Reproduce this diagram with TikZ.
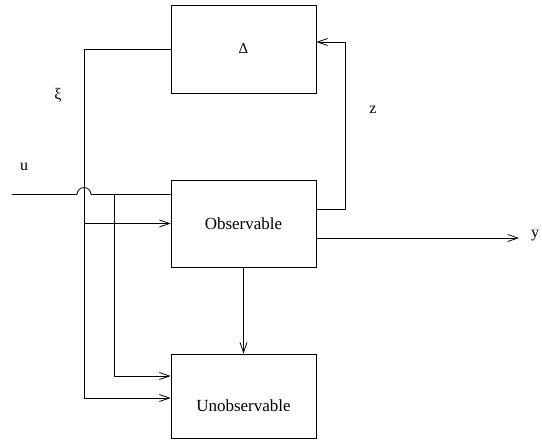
\documentclass[tikz,border=0pt]{standalone}
\usepackage{fontspec}
\setmainfont{Liberation Serif}
\usetikzlibrary{arrows.meta}
\begin{document}
\begin{tikzpicture}[x=1pt,y=-1pt, line width=0.8pt,
 box/.style={draw, minimum width=145pt, inner sep=0pt, font=\fontsize{17}{20}\selectfont},
 lbl/.style={font=\fontsize{16}{18}\selectfont, inner sep=0pt},
 arr/.style={-{Straight Barb[length=10pt,width=7pt]}}]
\useasboundingbox (0,0) rectangle (542,442);
\node[box, minimum height=88pt, font=\fontsize{15}{17}\selectfont] (delta) at (243.5,49) {Δ};
\node[box, minimum height=87pt] (obs) at (243.5,223.5) {Observable};
\node[box, minimum height=84pt] (unobs) at (243.5,396) {};
\node[font=\fontsize{17}{20}\selectfont, inner sep=0pt] (unobsT) at (243.5,406) {Unobservable};
% xi path
\coordinate (xiC) at (84,49);
\coordinate (xiO) at (84,223.5);
\coordinate (xiB) at (84,398);
\draw (delta.west) -- (xiC) -- (xiB);
\draw[arr] (xiO) -- (obs.west);
\draw[arr] (xiB) -- (unobs.west |- xiB);
% u path
\coordinate (uS) at (12,194.5);
\coordinate (uJ) at (114,194.5);
\coordinate (uB) at (114,376);
\draw (uS) -- (77,194.5) arc[start angle=180, end angle=360, radius=7] -- (obs.west |- uS);
\draw (uJ) -- (uB);
\draw[arr] (uB) -- (unobs.west |- uB);
% feedback z
\coordinate (zA) at (345,209);
\coordinate (zB) at (345,42);
\draw[arr] (obs.east |- zA) -- (zA) -- (zB) -- (delta.east |- zB);
% output y
\coordinate (yE) at (519,238);
\draw[arr] (obs.east |- yE) -- (yE);
% down
\draw[arr] (obs.south) -- (unobs.north);
% labels
\node[lbl] (xi) at (58,95) {ξ};
\node[lbl] (zl) at (373,110) {z};
\node[lbl] (ul) at (24,167) {u};
\node[lbl] (yl) at (535,236) {y};
\end{tikzpicture}
\end{document}
